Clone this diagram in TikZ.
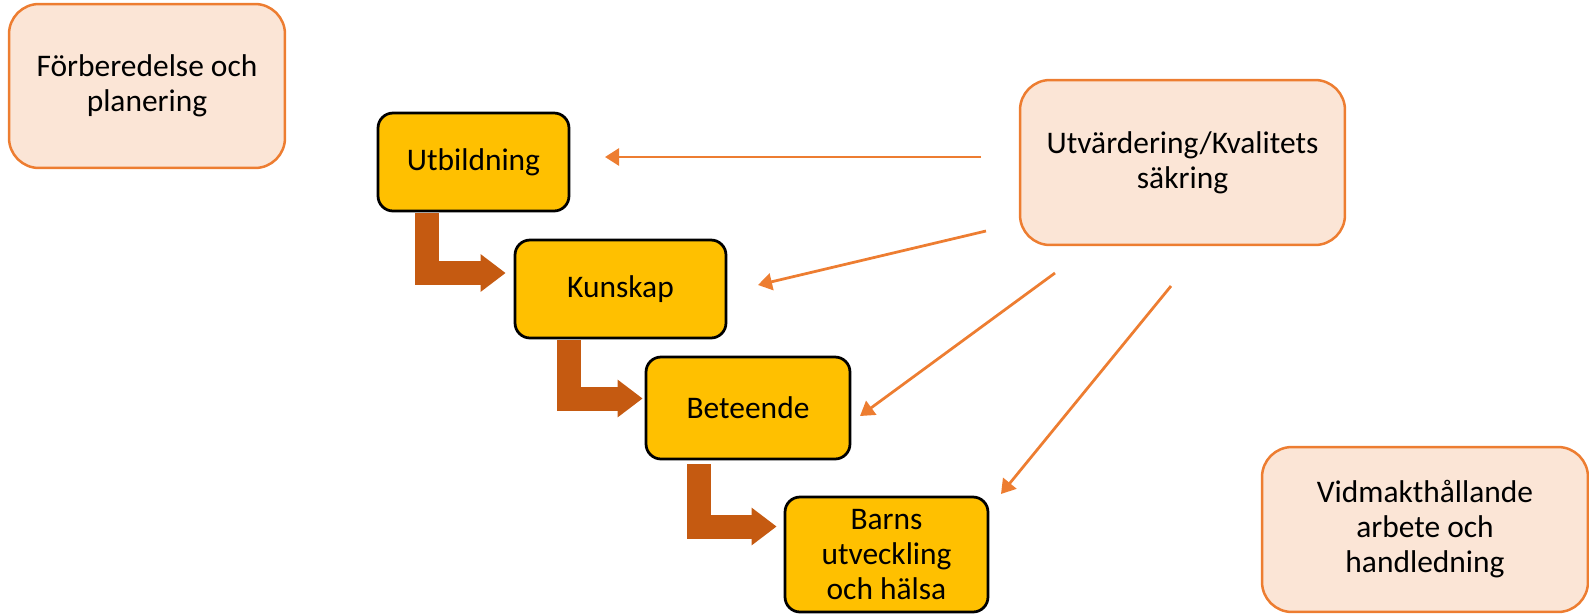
\documentclass[tikz,border=0pt]{standalone}
\usepackage{fontspec}
\setmainfont{Carlito}
\usetikzlibrary{arrows.meta,calc}
\definecolor{gul}{HTML}{FFC000}
\definecolor{rosa}{HTML}{FBE5D6}
\definecolor{orangelinje}{HTML}{ED7D31}
\definecolor{brun}{HTML}{C55A11}
\begin{document}
\begin{tikzpicture}[x=0.02cm,y=-0.02cm,
  every node/.style={align=center,font=\fontsize{17.9}{19.9}\selectfont,inner sep=0pt},
  fas/.style={draw=black,fill=gul,line width=0.055cm,rounded corners=0.3cm},
  ram/.style={draw=orangelinje,fill=rosa,line width=0.05cm,rounded corners=0.6cm},
  steg/.style={draw=brun,line width=0.48cm,-{Triangle[length=0.5cm,width=0.72cm]}},
  pil/.style={draw=orangelinje,line width=0.055cm,-{Triangle[length=0.28cm,width=0.34cm]}}]
\useasboundingbox (0,0) rectangle (1589,613);
\node[ram,minimum width=5.52cm,minimum height=3.28cm] (forb) at (147,86) {Förberedelse och\\planering};
\node[ram,minimum width=6.5cm,minimum height=3.3cm] (kval) at (1182.5,162.5) {Utvärdering/Kvalitets\\säkring};
\node[ram,minimum width=6.52cm,minimum height=3.3cm] (vidm) at (1425,529.5) {Vidmakthållande\\arbete och\\handledning};
\node[fas,minimum width=3.82cm,minimum height=1.96cm] (utb) at (473.5,162) {Utbildning};
\node[fas,minimum width=4.22cm,minimum height=1.96cm] (kun) at (620.5,289) {Kunskap};
\node[fas,minimum width=4.08cm,minimum height=2.04cm] (bet) at (748,408) {Beteende};
\node[fas,minimum width=4.06cm,minimum height=2.3cm] (barn) at (886.5,554.5) {Barns\\utveckling\\och hälsa};
% stegen mellan faserna
\draw[steg] ($(utb.south west)+(50,1)$) |- ($(kun.west)+(-8,-16)$);
\draw[steg] ($(kun.south west)+(55,1)$) |- ($(bet.west)+(-2,-9.5)$);
\draw[steg] ($(bet.south west)+(54,4)$) |- ($(barn.west)+(-7,-28)$);
% uppfoljning
\coordinate (k1) at (981,157);  \coordinate (m1) at (605,157);
\coordinate (k2) at (986,231);  \coordinate (m2) at (758,285);
\coordinate (k3) at (1055,273); \coordinate (m3) at (860,416);
\coordinate (k4) at (1171,286); \coordinate (m4) at (1001,494);
\foreach \i in {1,...,4} {
  \draw[pil] (k\i) -- (m\i);
}
\end{tikzpicture}
\end{document}
